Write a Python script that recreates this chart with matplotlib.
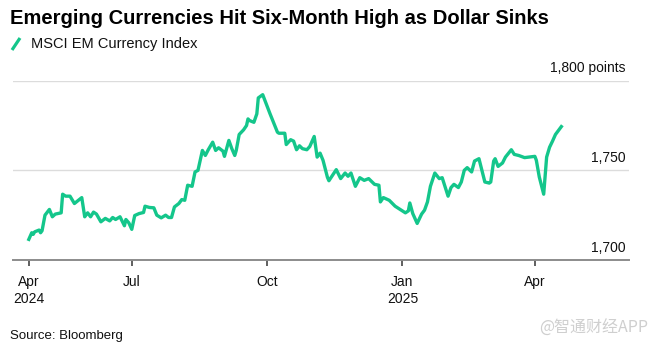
import matplotlib
matplotlib.use("Agg")
import matplotlib.pyplot as plt
from matplotlib.lines import Line2D
import pandas as pd

# MSCI EM Currency Index (approximate)
dates = [
    "2024-04-22", "2024-04-24", "2024-04-25", "2024-04-26", "2024-04-29", "2024-04-30",
    "2024-05-01", "2024-05-03", "2024-05-06", "2024-05-08", "2024-05-10", "2024-05-14",
    "2024-05-15", "2024-05-17", "2024-05-20", "2024-05-23", "2024-05-28", "2024-05-30",
    "2024-06-01", "2024-06-03", "2024-06-05", "2024-06-07", "2024-06-10", "2024-06-13",
    "2024-06-16", "2024-06-18", "2024-06-20", "2024-06-23", "2024-06-26", "2024-06-27",
    "2024-06-29", "2024-07-01", "2024-07-03", "2024-07-06", "2024-07-09", "2024-07-10",
    "2024-07-13", "2024-07-16", "2024-07-18", "2024-07-21", "2024-07-24", "2024-07-26",
    "2024-07-28", "2024-07-30", "2024-08-02", "2024-08-04", "2024-08-06", "2024-08-08",
    "2024-08-11", "2024-08-13", "2024-08-15", "2024-08-18", "2024-08-20", "2024-08-22",
    "2024-08-25", "2024-08-27", "2024-08-29", "2024-09-01", "2024-09-02", "2024-09-05",
    "2024-09-07", "2024-09-09", "2024-09-10", "2024-09-12", "2024-09-15", "2024-09-17",
    "2024-09-18", "2024-09-19", "2024-09-22", "2024-09-24", "2024-09-25", "2024-09-28",
    "2024-10-03", "2024-10-05", "2024-10-08", "2024-10-09", "2024-10-13", "2024-10-14",
    "2024-10-17", "2024-10-19", "2024-10-21", "2024-10-23", "2024-10-25", "2024-10-28",
    "2024-10-30", "2024-11-02", "2024-11-04", "2024-11-06", "2024-11-08", "2024-11-11",
    "2024-11-12", "2024-11-14", "2024-11-17", "2024-11-20", "2024-11-23", "2024-11-25",
    "2024-11-27", "2024-11-30", "2024-12-03", "2024-12-06", "2024-12-09", "2024-12-13",
    "2024-12-16", "2024-12-17", "2024-12-19", "2024-12-23", "2024-12-27", "2025-01-01",
    "2025-01-03", "2025-01-05", "2025-01-06", "2025-01-08", "2025-01-11", "2025-01-14",
    "2025-01-16", "2025-01-18", "2025-01-20", "2025-01-23", "2025-01-26", "2025-01-28",
    "2025-02-01", "2025-02-03", "2025-02-05", "2025-02-08", "2025-02-10", "2025-02-12",
    "2025-02-14", "2025-02-17", "2025-02-19", "2025-02-22", "2025-02-26", "2025-03-01",
    "2025-03-02", "2025-03-04", "2025-03-05", "2025-03-07", "2025-03-10", "2025-03-12",
    "2025-03-16", "2025-03-18", "2025-03-21", "2025-03-25", "2025-03-28", "2025-04-01",
    "2025-04-02", "2025-04-04", "2025-04-07", "2025-04-09", "2025-04-11", "2025-04-13",
    "2025-04-15", "2025-04-17", "2025-04-19",
]
values = [
    1711.5, 1715.2, 1714.3, 1715.7, 1716.7, 1715.2,
    1716.3, 1725.0, 1728.2, 1724.1, 1725.6, 1726.3,
    1736.7, 1735.6, 1735.6, 1731.5, 1734.8, 1724.1,
    1726.3, 1724.1, 1726.7, 1725.6, 1721.3, 1723.2,
    1721.8, 1723.7, 1722.6, 1724.1, 1719.1, 1722.6,
    1720.7, 1717.1, 1724.8, 1725.9, 1726.5, 1730.0,
    1729.3, 1729.1, 1725.0, 1723.5, 1725.0, 1723.7,
    1723.7, 1729.6, 1731.5, 1733.7, 1733.3, 1741.7,
    1741.1, 1749.1, 1750.0, 1761.1, 1758.3, 1761.5,
    1765.7, 1761.1, 1762.6, 1760.7, 1757.8, 1766.7,
    1762.1, 1758.3, 1761.1, 1770.0, 1772.6, 1775.0,
    1778.7, 1777.8, 1776.8, 1781.5, 1790.4, 1792.2,
    1781.5, 1777.4, 1771.3, 1770.7, 1770.7, 1764.4,
    1767.1, 1766.3, 1761.5, 1763.7, 1762.1, 1761.5,
    1763.3, 1768.9, 1757.4, 1759.6, 1755.6, 1746.1,
    1744.2, 1746.7, 1750.4, 1745.4, 1748.5, 1746.7,
    1748.5, 1741.1, 1745.9, 1744.4, 1745.4, 1742.2,
    1741.7, 1732.4, 1734.8, 1733.3, 1730.0, 1727.4,
    1726.3, 1727.4, 1731.8, 1725.9, 1720.4, 1725.6,
    1727.8, 1732.4, 1741.1, 1748.5, 1745.4, 1745.9,
    1735.6, 1740.4, 1742.2, 1740.4, 1743.5, 1750.0,
    1751.5, 1749.1, 1755.2, 1756.5, 1743.5, 1742.9,
    1743.5, 1755.2, 1756.5, 1752.2, 1754.1, 1757.4,
    1761.5, 1758.9, 1758.3, 1757.1, 1757.4, 1757.8,
    1755.6, 1746.3, 1736.7, 1757.4, 1762.9, 1766.3,
    1770.0, 1772.2, 1774.4,
]

tick_dates = ["2024-04-22", "2024-07-01", "2024-10-01", "2025-01-01", "2025-04-01"]
tick_labels = ["Apr\n2024", "Jul", "Oct", "Jan\n2025", "Apr"]
y_levels = [1700, 1750, 1800]
y_labels = ["1,700", "1,750", "1,800 points"]

green = "#14C68B"
plt.rcParams["font.family"] = ["Liberation Sans", "DejaVu Sans"]

x = pd.to_datetime(dates)

fig = plt.figure(figsize=(6.54, 3.48), dpi=100)
ax = fig.add_axes([0.0193, 0.2529, 0.9425, 0.5152])

for lv in y_levels[1:]:
    ax.axhline(lv, color="#dcdcdc", lw=1.0, zorder=1)
ax.plot(x, values, color=green, lw=2.4, solid_joinstyle="round", zorder=3)

ax.set_ylim(1700, 1800)
ax.set_xlim(pd.Timestamp("2024-04-11"), pd.Timestamp("2025-06-04"))

for s in ["top", "left", "right"]:
    ax.spines[s].set_visible(False)
ax.spines["bottom"].set_color("#8c8c8c")
ax.spines["bottom"].set_linewidth(1.4)
ax.set_yticks([])
ax.set_xticks(pd.to_datetime(tick_dates))
ax.set_xticklabels(tick_labels, fontsize=10, color="#111111", linespacing=1.25)
ax.tick_params(axis="x", length=4, width=1.2, color="#444444", pad=7)

for lv, lab in zip(y_levels, y_labels):
    ax.annotate(lab, xy=(0.995, lv), xycoords=("axes fraction", "data"),
                xytext=(0, 6), textcoords="offset points",
                ha="right", va="baseline", fontsize=10, color="#111111")

fig.text(0.0153, 0.948, "Emerging Currencies Hit Six-Month High as Dollar Sinks",
         fontsize=14.5, fontweight="bold", va="center", ha="left", color="#000000")
fig.add_artist(Line2D([12 / 654, 20 / 654], [1 - 50 / 348, 1 - 38 / 348],
                      color=green, lw=2.3, solid_capstyle="butt"))
fig.text(31 / 654, 1 - 44 / 348, "MSCI EM Currency Index", fontsize=10.5,
         va="center", ha="left", color="#111111")
fig.text(0.0153, 1 - 336 / 348, "Source: Bloomberg", fontsize=9.5,
         va="center", ha="left", color="#111111")
fig.text(648 / 654, 1 - 328 / 348, "@智通财经APP", fontsize=11.5,
         va="center", ha="right", color="#cfcfcf",
         family=["Noto Sans CJK SC", "DejaVu Sans"])

fig.savefig("out.png", dpi=100)
